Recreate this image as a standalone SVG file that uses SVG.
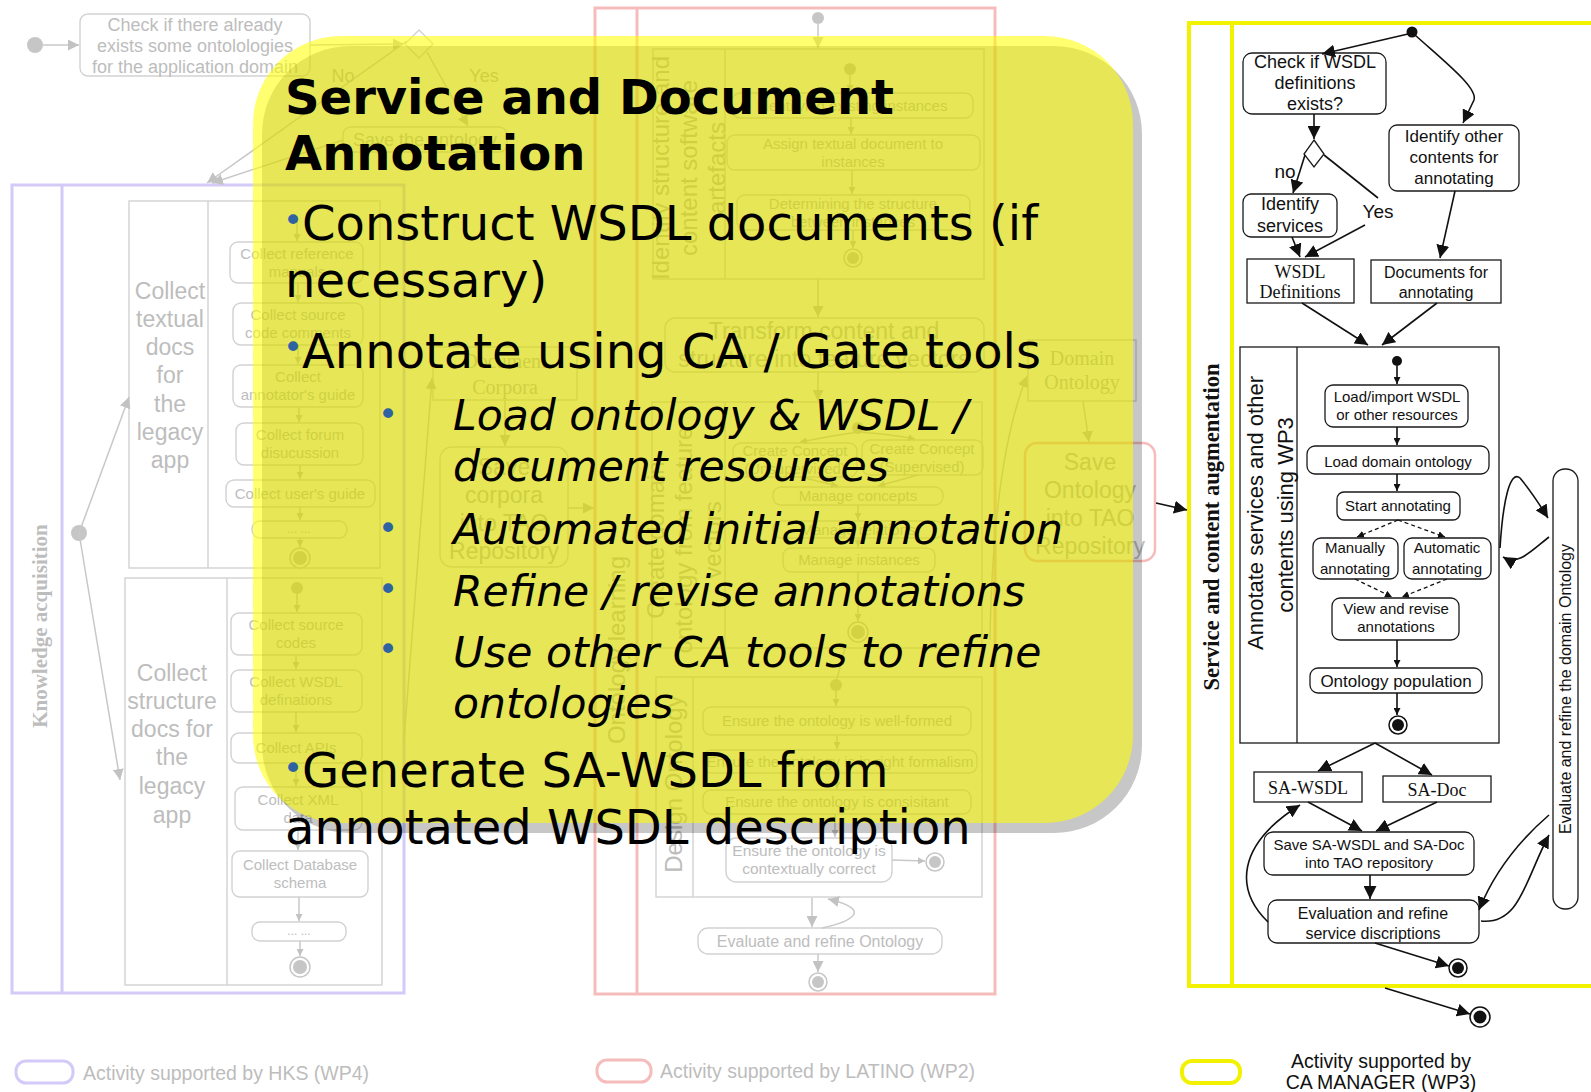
<svg xmlns="http://www.w3.org/2000/svg" width="1591" height="1092" viewBox="0 0 1591 1092">
<defs>
<marker id="fa" viewBox="0 0 10 10" refX="10" refY="5" markerWidth="11" markerHeight="11" markerUnits="userSpaceOnUse" orient="auto"><path d="M0,0 L10,5 L0,10 z" fill="#c2c2c2"/></marker>
<marker id="fs" viewBox="0 0 10 10" refX="10" refY="5" markerWidth="7" markerHeight="7" markerUnits="userSpaceOnUse" orient="auto"><path d="M0,0 L10,5 L0,10 z" fill="#c2c2c2"/></marker>
<marker id="ba" viewBox="0 0 10 10" refX="10" refY="5" markerWidth="13" markerHeight="13" markerUnits="userSpaceOnUse" orient="auto"><path d="M0,0 L10,5 L0,10 z" fill="#111"/></marker>
<marker id="bs" viewBox="0 0 10 10" refX="10" refY="5" markerWidth="7" markerHeight="7" markerUnits="userSpaceOnUse" orient="auto"><path d="M0,0 L10,5 L0,10 z" fill="#111"/></marker>
</defs>
<style>
.fb{fill:none;stroke:#d2d2d2;stroke-width:1.4}
.fl{fill:none;stroke:#c8c8c8;stroke-width:1.5}
.ft{font-family:"Liberation Sans",Arial,sans-serif;fill:#bdbdbd;text-anchor:middle}
.fsf{font-family:"Liberation Serif","Times New Roman",serif;fill:#bdbdbd;text-anchor:middle}
.fd{fill:#c6c6c6}
.fe{fill:#fff;stroke:#c6c6c6;stroke-width:1.5}
.bb{fill:#fff;stroke:#1a1a1a;stroke-width:1.3}
.bl{fill:none;stroke:#111;stroke-width:1.6}
.bd{fill:none;stroke:#111;stroke-width:1.3;stroke-dasharray:4 3}
.bt{font-family:"Liberation Sans",Arial,sans-serif;fill:#111;text-anchor:middle}
.bsf{font-family:"Liberation Serif","Times New Roman",serif;fill:#111;text-anchor:middle}
.be{fill:#fff;stroke:#111;stroke-width:1.5}
.ov{font-family:"DejaVu Sans",Verdana,sans-serif;fill:#000}
.bu{font-family:"DejaVu Sans",Verdana,sans-serif;fill:#2f62a1;text-anchor:middle;font-size:34px}
</style>
<rect width="1591" height="1092" fill="#fff"/>

<!-- ===== Faded left diagram (HKS) ===== -->
<g id="lane-knowledge">
<rect x="12" y="185" width="392" height="808" fill="none" stroke="#d4caf8" stroke-width="3"/>
<line x1="62" y1="185" x2="62" y2="993" stroke="#d4caf8" stroke-width="3"/>
<text class="fsf" font-size="21" font-weight="bold" transform="translate(47,626) rotate(-90)">Knowledge acquisition</text>
</g>
<g id="start-left"><circle cx="35" cy="45" r="8" class="fd"/></g>
<g id="check-existing"><rect x="80" y="14" width="230" height="62" rx="8" class="fb"/>
<text class="ft" font-size="18"><tspan x="195" y="31">Check if there already</tspan><tspan x="195" y="52">exists some ontolologies</tspan><tspan x="195" y="73">for the application domain</tspan></text></g>
<g id="decision-left"><polygon points="419,30 433,44 419,58 405,44" class="fb"/></g>
<g id="reuse-ontology"><rect x="343" y="127" width="164" height="25" rx="8" class="fb"/>
<text class="ft" font-size="18" x="425" y="146">Save the ontology</text></g>
<g id="sub-textual"><rect x="129" y="201" width="251" height="367" class="fb"/><line x1="208" y1="201" x2="208" y2="568" class="fb"/>
<text class="ft" font-size="23"><tspan x="170" y="299">Collect</tspan><tspan x="170" y="327">textual</tspan><tspan x="170" y="355">docs</tspan><tspan x="170" y="383">for</tspan><tspan x="170" y="412">the</tspan><tspan x="170" y="440">legacy</tspan><tspan x="170" y="468">app</tspan></text></g>
<g id="n-ref"><rect x="230" y="242" width="133" height="41" rx="8" class="fb"/><text class="ft" font-size="15"><tspan x="297" y="259">Collect reference</tspan><tspan x="297" y="277">manuals</tspan></text></g>
<g id="n-src-comments"><rect x="233" y="303" width="130" height="42" rx="8" class="fb"/><text class="ft" font-size="15"><tspan x="298" y="320">Collect source</tspan><tspan x="298" y="338">code comments</tspan></text></g>
<g id="n-annot-guide"><rect x="233" y="365" width="130" height="42" rx="8" class="fb"/><text class="ft" font-size="15"><tspan x="298" y="382">Collect</tspan><tspan x="298" y="400">annotator's guide</tspan></text></g>
<g id="n-forum"><rect x="236" y="423" width="127" height="42" rx="8" class="fb"/><text class="ft" font-size="15"><tspan x="300" y="440">Collect forum</tspan><tspan x="300" y="458">disucussion</tspan></text></g>
<g id="n-user-guide"><rect x="226" y="480" width="149" height="27" rx="8" class="fb"/><text class="ft" font-size="15" x="300" y="499">Collect user's guide</text></g>
<g id="n-dots1"><rect x="252" y="521" width="95" height="17" rx="8" class="fb"/><text class="ft" font-size="12" x="299" y="533">... ...</text></g>
<g id="end-textual"><circle cx="300" cy="558" r="10" class="fe"/><circle cx="300" cy="558" r="7" class="fd"/></g>
<g id="sub-structure"><rect x="125" y="578" width="257" height="407" class="fb"/><line x1="227" y1="578" x2="227" y2="985" class="fb"/>
<text class="ft" font-size="23"><tspan x="172" y="681">Collect</tspan><tspan x="172" y="709">structure</tspan><tspan x="172" y="737">docs for</tspan><tspan x="172" y="765">the</tspan><tspan x="172" y="794">legacy</tspan><tspan x="172" y="823">app</tspan></text></g>
<g id="start-structure"><circle cx="297" cy="588" r="6" class="fd"/></g>
<g id="n-src-codes"><rect x="231" y="613" width="131" height="42" rx="8" class="fb"/><text class="ft" font-size="15"><tspan x="296" y="630">Collect source</tspan><tspan x="296" y="648">codes</tspan></text></g>
<g id="n-wsdl-def"><rect x="231" y="670" width="131" height="42" rx="8" class="fb"/><text class="ft" font-size="15"><tspan x="296" y="687">Collect WSDL</tspan><tspan x="296" y="705">definations</tspan></text></g>
<g id="n-apis"><rect x="231" y="733" width="131" height="30" rx="8" class="fb"/><text class="ft" font-size="15" x="296" y="753">Collect APIs</text></g>
<g id="n-xml"><rect x="235" y="787" width="127" height="43" rx="8" class="fb"/><text class="ft" font-size="15"><tspan x="298" y="805">Collect XML</tspan><tspan x="298" y="823">data</tspan></text></g>
<g id="n-db"><rect x="232" y="851" width="136" height="46" rx="8" class="fb"/><text class="ft" font-size="15"><tspan x="300" y="870">Collect Database</tspan><tspan x="300" y="888">schema</tspan></text></g>
<g id="n-dots2"><rect x="252" y="922" width="94" height="19" rx="8" class="fb"/><text class="ft" font-size="12" x="299" y="935">... ...</text></g>
<g id="end-structure"><circle cx="300" cy="967" r="10" class="fe"/><circle cx="300" cy="967" r="7" class="fd"/></g>
<g id="fork-left"><circle cx="79" cy="533" r="8" class="fd"/></g>
<g id="legend-hks"><rect x="16" y="1061" width="57" height="22" rx="10" fill="none" stroke="#d4caf8" stroke-width="3"/><text class="ft" font-size="19.5" x="83" y="1080" style="text-anchor:start">Activity supported by HKS (WP4)</text></g>

<!-- ===== Faded middle diagram (LATINO) ===== -->
<g id="lane-latino">
<rect x="595" y="8" width="400" height="986" fill="none" stroke="#f6bcbc" stroke-width="3"/>
<line x1="637" y1="8" x2="637" y2="994" stroke="#f6bcbc" stroke-width="3"/>
<text class="ft" font-size="24" transform="translate(625,650) rotate(-90)">Ontology learning</text>
</g>
<g id="start-mid"><circle cx="818" cy="18" r="6" class="fd"/></g>
<g id="box-identify"><rect x="653" y="49" width="331" height="230" class="fb"/><line x1="725" y1="49" x2="725" y2="279" class="fb"/>
<text class="ft" font-size="24" transform="translate(669,168) rotate(-90)">Identify structure and</text>
<text class="ft" font-size="24" transform="translate(697,168) rotate(-90)">content software</text>
<text class="ft" font-size="24" transform="translate(725,168) rotate(-90)">artefacts</text></g>
<g id="start-identify"><circle cx="850" cy="69" r="6" class="fd"/></g>
<g id="m-identifying"><rect x="732" y="93" width="241" height="25" rx="8" class="fb"/><text class="ft" font-size="15" x="852" y="111">Identifying existing instances</text></g>
<g id="m-assign"><rect x="727" y="135" width="253" height="35" rx="8" class="fb"/><text class="ft" font-size="15"><tspan x="853" y="149">Assign textual document to</tspan><tspan x="853" y="167">instances</tspan></text></g>
<g id="m-determine"><rect x="737" y="195" width="233" height="35" rx="8" class="fb"/><text class="ft" font-size="15"><tspan x="853" y="209">Determining the structure</tspan><tspan x="853" y="227">between instances</tspan></text></g>
<g id="end-identify"><circle cx="853" cy="258" r="9" class="fe"/><circle cx="853" cy="258" r="6" class="fd"/></g>
<g id="m-transform"><rect x="665" y="318" width="319" height="54" rx="10" class="fb"/><text class="ft" font-size="23"><tspan x="824" y="339">Transform content and</tspan><tspan x="824" y="367">structure into feature vectors</tspan></text></g>
<g id="box-create"><rect x="652" y="402" width="330" height="246" class="fb"/><line x1="725" y1="402" x2="725" y2="648" class="fb"/>
<text class="ft" font-size="24" transform="translate(664,540) rotate(-90)">Create domain</text>
<text class="ft" font-size="24" transform="translate(692,540) rotate(-90)">ontology from feature</text>
<text class="ft" font-size="24" transform="translate(721,540) rotate(-90)">vectors</text></g>
<g id="start-create"><circle cx="858" cy="428" r="6" class="fd"/></g>
<g id="m-unsup"><rect x="733" y="443" width="124" height="34" rx="8" class="fb"/><text class="ft" font-size="15"><tspan x="795" y="456">Create Concept</tspan><tspan x="795" y="474">(Unsupervised)</tspan></text></g>
<g id="m-sup"><rect x="862" y="440" width="121" height="35" rx="8" class="fb"/><text class="ft" font-size="15"><tspan x="922" y="454">Create Concept</tspan><tspan x="922" y="472">(Supervised)</tspan></text></g>
<g id="m-concepts"><rect x="773" y="487" width="170" height="18" rx="8" class="fb"/><text class="ft" font-size="15" x="858" y="501">Manage concepts</text></g>
<g id="m-relations"><rect x="773" y="521" width="170" height="17" rx="8" class="fb"/><text class="ft" font-size="15" x="858" y="535">Manage relations</text></g>
<g id="m-instances"><rect x="783" y="548" width="152" height="24" rx="8" class="fb"/><text class="ft" font-size="15" x="859" y="565">Manage instances</text></g>
<g id="end-create"><circle cx="858" cy="632" r="10" class="fe"/><circle cx="858" cy="632" r="7" class="fd"/></g>
<g id="merge-design"><circle cx="836" cy="685" r="6" class="fd"/></g>
<g id="box-design"><rect x="656" y="677" width="326" height="220" class="fb"/><line x1="693" y1="677" x2="693" y2="897" class="fb"/>
<text class="ft" font-size="24" transform="translate(682,784) rotate(-90)">Design Ontology</text></g>
<g id="m-wellformed"><rect x="703" y="707" width="268" height="28" rx="8" class="fb"/><text class="ft" font-size="15" x="837" y="726">Ensure the ontology is well-formed</text></g>
<g id="m-formalism"><rect x="703" y="750" width="274" height="23" rx="8" class="fb"/><text class="ft" font-size="15" x="840" y="767">Ensure the ontology is in right formalism</text></g>
<g id="m-consistent"><rect x="703" y="790" width="268" height="24" rx="8" class="fb"/><text class="ft" font-size="15" x="837" y="807">Ensure the ontology is consisitant</text></g>
<g id="m-context"><rect x="726" y="838" width="166" height="44" rx="10" class="fb"/><text class="ft" font-size="15.5"><tspan x="809" y="856">Ensure the ontology is</tspan><tspan x="809" y="874">contextually correct</tspan></text></g>
<g id="end-design"><circle cx="935" cy="862" r="9" class="fe"/><circle cx="935" cy="862" r="6" class="fd"/></g>
<g id="m-evaluate"><rect x="698" y="928" width="244" height="26" rx="10" class="fb"/><text class="ft" font-size="16" x="820" y="947">Evaluate and refine Ontology</text></g>
<g id="end-mid"><circle cx="818" cy="982" r="9" class="fe"/><circle cx="818" cy="982" r="6" class="fd"/></g>
<g id="doc-corpora"><rect x="433" y="347" width="144" height="53" class="fb"/><text class="fsf" font-size="20"><tspan x="505" y="368">Document</tspan><tspan x="505" y="394">Corpora</tspan></text></g>
<g id="save-corpora"><rect x="440" y="447" width="128" height="120" rx="12" class="fb"/><text class="ft" font-size="23"><tspan x="504" y="475">Save</tspan><tspan x="504" y="503">corpora</tspan><tspan x="504" y="531">into TAO</tspan><tspan x="504" y="559">Repository</tspan></text></g>
<g id="domain-ontology"><rect x="1028" y="340" width="108" height="61" class="fb"/><text class="fsf" font-size="20"><tspan x="1082" y="365">Domain</tspan><tspan x="1082" y="389">Ontology</tspan></text></g>
<g id="save-ontology"><rect x="1025" y="443" width="130" height="118" rx="12" fill="none" stroke="#f6bcbc" stroke-width="2.5"/><text class="ft" font-size="23"><tspan x="1090" y="470">Save</tspan><tspan x="1090" y="498">Ontology</tspan><tspan x="1090" y="526">into TAO</tspan><tspan x="1090" y="554">Repository</tspan></text></g>
<g id="legend-latino"><rect x="597" y="1060" width="54" height="22" rx="10" fill="none" stroke="#f6bcbc" stroke-width="3"/><text class="ft" font-size="19.5" x="660" y="1078" style="text-anchor:start">Activity supported by LATINO (WP2)</text></g>

<!-- ===== Right diagram (CA MANAGER) ===== -->
<g id="lane-ca">
<path d="M1591,23 H1189 V986 H1591" fill="none" stroke="#f2f200" stroke-width="4"/>
<line x1="1232" y1="23" x2="1232" y2="986" stroke="#f2f200" stroke-width="4"/>
<text class="bsf" font-size="22.5" font-weight="bold" transform="translate(1219,527) rotate(-90)">Service and content augmentation</text>
</g>
<g id="start-ca"><circle cx="1412" cy="32" r="5.5" fill="#111"/></g>
<g id="r-check"><rect x="1243" y="53" width="143" height="61" rx="9" class="bb"/><text class="bt" font-size="18"><tspan x="1315" y="68">Check if WSDL</tspan><tspan x="1315" y="89">definitions</tspan><tspan x="1315" y="110">exists?</tspan></text></g>
<g id="r-decision"><polygon points="1314,140 1324,154 1314,167 1304,154" class="bb"/></g>
<g id="r-identify-other"><rect x="1389" y="125" width="130" height="66" rx="8" class="bb"/><text class="bt" font-size="17"><tspan x="1454" y="142">Identify other</tspan><tspan x="1454" y="163">contents for</tspan><tspan x="1454" y="184">annotating</tspan></text></g>
<g id="r-identify-services"><rect x="1243" y="194" width="94" height="43" rx="8" class="bb"/><text class="bt" font-size="18"><tspan x="1290" y="210">Identify</tspan><tspan x="1290" y="232">services</tspan></text></g>
<g id="r-wsdl-def"><rect x="1247" y="259" width="107" height="44" class="bb"/><text class="bsf" font-size="18"><tspan x="1300" y="278">WSDL</tspan><tspan x="1300" y="298">Definitions</tspan></text></g>
<g id="r-docs"><rect x="1371" y="260" width="130" height="43" class="bb"/><text class="bt" font-size="16"><tspan x="1436" y="278">Documents for</tspan><tspan x="1436" y="298">annotating</tspan></text></g>
<g id="r-annotate-box"><rect x="1240" y="347" width="259" height="396" class="bb"/><line x1="1297" y1="347" x2="1297" y2="743" stroke="#1a1a1a" stroke-width="1.3"/>
<text class="bt" font-size="22" transform="translate(1263,513) rotate(-90)">Annotate services and other</text>
<text class="bt" font-size="22" transform="translate(1293,515) rotate(-90)">contents using WP3</text></g>
<g id="r-start-inner"><circle cx="1397" cy="361" r="5" fill="#111"/></g>
<g id="r-load-wsdl"><rect x="1325" y="385" width="143" height="42" rx="8" class="bb"/><text class="bt" font-size="15"><tspan x="1397" y="402">Load/import WSDL</tspan><tspan x="1397" y="420">or other resources</tspan></text></g>
<g id="r-load-domain"><rect x="1307" y="446" width="182" height="28" rx="8" class="bb"/><text class="bt" font-size="15" x="1398" y="467">Load domain ontology</text></g>
<g id="r-start-annot"><rect x="1337" y="492" width="123" height="28" rx="7" class="bb"/><text class="bt" font-size="15" x="1398" y="511">Start annotating</text></g>
<g id="r-manual"><rect x="1313" y="538" width="85" height="41" rx="8" class="bb"/><text class="bt" font-size="15"><tspan x="1355" y="553">Manually</tspan><tspan x="1355" y="574">annotating</tspan></text></g>
<g id="r-auto"><rect x="1404" y="538" width="87" height="41" rx="8" class="bb"/><text class="bt" font-size="15"><tspan x="1447" y="553">Automatic</tspan><tspan x="1447" y="574">annotating</tspan></text></g>
<g id="r-view"><rect x="1332" y="598" width="127" height="42" rx="8" class="bb"/><text class="bt" font-size="15"><tspan x="1396" y="614">View and revise</tspan><tspan x="1396" y="632">annotations</tspan></text></g>
<g id="r-population"><rect x="1310" y="668" width="172" height="25" rx="8" class="bb"/><text class="bt" font-size="17" x="1396" y="687">Ontology population</text></g>
<g id="r-end-inner"><circle cx="1398" cy="725" r="9" class="be"/><circle cx="1398" cy="725" r="6" fill="#111"/></g>
<g id="r-evaluate-onto"><rect x="1553" y="469" width="25" height="440" rx="12" class="bb"/><text class="bt" font-size="16" transform="translate(1571,689) rotate(-90)">Evaluate and refine the domain Ontology</text></g>
<g id="r-sa-wsdl"><rect x="1254" y="772" width="108" height="30" class="bb"/><text class="bsf" font-size="18" x="1308" y="794">SA-WSDL</text></g>
<g id="r-sa-doc"><rect x="1383" y="776" width="108" height="26" class="bb"/><text class="bsf" font-size="18" x="1437" y="796">SA-Doc</text></g>
<g id="r-save"><rect x="1264" y="832" width="210" height="43" rx="9" class="bb"/><text class="bt" font-size="15"><tspan x="1369" y="850">Save SA-WSDL and SA-Doc</tspan><tspan x="1369" y="868">into TAO repository</tspan></text></g>
<g id="r-evaluation"><rect x="1268" y="900" width="211" height="43" rx="9" class="bb"/><text class="bt" font-size="16"><tspan x="1373" y="919">Evaluation and refine</tspan><tspan x="1373" y="939">service discriptions</tspan></text></g>
<g id="r-end1"><circle cx="1458" cy="968" r="9" class="be"/><circle cx="1458" cy="968" r="6" fill="#111"/></g>
<g id="r-end2"><circle cx="1480" cy="1017" r="10" class="be"/><circle cx="1480" cy="1017" r="6.5" fill="#111"/></g>
<g id="legend-ca"><rect x="1182" y="1061" width="58" height="22" rx="10" fill="none" stroke="#f2f200" stroke-width="4"/><text class="bt" font-size="19.5"><tspan x="1381" y="1068">Activity supported by</tspan><tspan x="1381" y="1089">CA MANAGER (WP3)</tspan></text></g>

<!-- ===== Connectors ===== -->
<g id="connectors">
<g class="fl">
<line x1="43" y1="45" x2="79" y2="45" marker-end="url(#fa)"/>
<line x1="310" y1="45" x2="404" y2="44" marker-end="url(#fa)"/>
<line x1="407" y1="41" x2="207" y2="183" marker-end="url(#fa)"/>
<line x1="343" y1="140" x2="212" y2="183" marker-end="url(#fa)"/>
<line x1="427" y1="52" x2="468" y2="126" marker-end="url(#fa)"/>
<line x1="79" y1="533" x2="129" y2="397" marker-end="url(#fa)"/>
<line x1="79" y1="533" x2="120" y2="780" marker-end="url(#fa)"/>
<line x1="297" y1="216" x2="297" y2="241" marker-end="url(#fs)"/>
<line x1="298" y1="283" x2="298" y2="302" marker-end="url(#fs)"/>
<line x1="298" y1="345" x2="298" y2="364" marker-end="url(#fs)"/>
<line x1="299" y1="407" x2="299" y2="422" marker-end="url(#fs)"/>
<line x1="300" y1="465" x2="300" y2="479" marker-end="url(#fs)"/>
<line x1="300" y1="507" x2="300" y2="520" marker-end="url(#fs)"/>
<line x1="300" y1="538" x2="300" y2="547" marker-end="url(#fs)"/>
<line x1="297" y1="594" x2="297" y2="612" marker-end="url(#fs)"/>
<line x1="296" y1="655" x2="296" y2="669" marker-end="url(#fs)"/>
<line x1="296" y1="712" x2="296" y2="732" marker-end="url(#fs)"/>
<line x1="296" y1="763" x2="296" y2="786" marker-end="url(#fs)"/>
<line x1="298" y1="830" x2="298" y2="850" marker-end="url(#fs)"/>
<line x1="299" y1="897" x2="299" y2="921" marker-end="url(#fs)"/>
<line x1="300" y1="941" x2="300" y2="956" marker-end="url(#fs)"/>
<line x1="404" y1="740" x2="432" y2="378" marker-end="url(#fa)"/>
<line x1="505" y1="400" x2="505" y2="446" marker-end="url(#fa)"/>
<line x1="568" y1="508" x2="594" y2="508" marker-end="url(#fa)"/>
<line x1="818" y1="24" x2="818" y2="48" marker-end="url(#fa)"/>
<line x1="850" y1="75" x2="850" y2="92" marker-end="url(#fs)"/>
<line x1="851" y1="118" x2="851" y2="134" marker-end="url(#fs)"/>
<line x1="852" y1="170" x2="852" y2="194" marker-end="url(#fs)"/>
<line x1="853" y1="230" x2="853" y2="248" marker-end="url(#fs)"/>
<line x1="818" y1="279" x2="818" y2="317" marker-end="url(#fa)"/>
<line x1="818" y1="372" x2="818" y2="401" marker-end="url(#fa)"/>
<path d="M858,432 Q830,436 800,442" marker-end="url(#fs)"/>
<path d="M858,432 Q890,434 915,439" marker-end="url(#fs)"/>
<line x1="800" y1="477" x2="838" y2="486" marker-end="url(#fs)"/>
<line x1="918" y1="475" x2="878" y2="486" marker-end="url(#fs)"/>
<line x1="858" y1="505" x2="858" y2="520" marker-end="url(#fs)"/>
<line x1="858" y1="538" x2="858" y2="547" marker-end="url(#fs)"/>
<line x1="858" y1="572" x2="858" y2="621" marker-end="url(#fs)"/>
<line x1="845" y1="648" x2="837" y2="679"/>
<line x1="836" y1="691" x2="836" y2="706" marker-end="url(#fs)"/>
<line x1="837" y1="735" x2="837" y2="749" marker-end="url(#fs)"/>
<line x1="837" y1="773" x2="837" y2="789" marker-end="url(#fs)"/>
<line x1="835" y1="814" x2="835" y2="837" marker-end="url(#fs)"/>
<line x1="892" y1="860" x2="925" y2="861" marker-end="url(#fs)"/>
<line x1="812" y1="898" x2="812" y2="927" marker-end="url(#fa)"/>
<path d="M822,928 C850,922 875,910 828,899" marker-end="url(#fa)"/>
<line x1="818" y1="954" x2="818" y2="972" marker-end="url(#fa)"/>
<line x1="1083" y1="401" x2="1089" y2="442" marker-end="url(#fa)"/>
<path d="M990,640 C992,520 1005,430 1027,376" marker-end="url(#fa)"/>
</g>
<g class="bl">
<line x1="1156" y1="503" x2="1187" y2="510" marker-end="url(#ba)"/>
<line x1="1408" y1="34" x2="1322" y2="54" marker-end="url(#ba)"/>
<path d="M1415,35 C1445,62 1478,88 1474,100 L1463,123" marker-end="url(#ba)"/>
<line x1="1314" y1="114" x2="1314" y2="139" marker-end="url(#ba)"/>
<line x1="1305" y1="155" x2="1293" y2="193" marker-end="url(#ba)"/>
<line x1="1324" y1="155" x2="1378" y2="198"/>
<line x1="1365" y1="225" x2="1305" y2="257" marker-end="url(#ba)"/>
<line x1="1292" y1="237" x2="1300" y2="257" marker-end="url(#ba)"/>
<line x1="1455" y1="191" x2="1440" y2="258" marker-end="url(#ba)"/>
<line x1="1302" y1="303" x2="1368" y2="345" marker-end="url(#ba)"/>
<line x1="1437" y1="303" x2="1382" y2="345" marker-end="url(#ba)"/>
<line x1="1397" y1="366" x2="1397" y2="384" marker-end="url(#bs)"/>
<line x1="1397" y1="427" x2="1397" y2="445" marker-end="url(#bs)"/>
<line x1="1397" y1="474" x2="1397" y2="491" marker-end="url(#bs)"/>
<line x1="1397" y1="640" x2="1397" y2="667" marker-end="url(#bs)"/>
<line x1="1397" y1="693" x2="1397" y2="715" marker-end="url(#bs)"/>
<line x1="1375" y1="743" x2="1318" y2="771" marker-end="url(#ba)"/>
<line x1="1375" y1="743" x2="1432" y2="775" marker-end="url(#ba)"/>
<line x1="1308" y1="802" x2="1362" y2="831" marker-end="url(#ba)"/>
<line x1="1437" y1="802" x2="1376" y2="831" marker-end="url(#ba)"/>
<line x1="1370" y1="875" x2="1370" y2="899" marker-end="url(#ba)"/>
<path d="M1268,922 C1235,890 1236,845 1300,805" marker-end="url(#ba)"/>
<line x1="1375" y1="943" x2="1449" y2="966" marker-end="url(#ba)"/>
<line x1="1385" y1="988" x2="1470" y2="1014" marker-end="url(#ba)"/>
<path d="M1500,548 C1503,500 1510,470 1520,478 C1530,490 1540,505 1548,518" marker-end="url(#ba)"/>
<path d="M1549,537 C1530,552 1518,566 1503,557" marker-end="url(#ba)"/>
<path d="M1549,815 C1520,840 1495,870 1479,910" marker-end="url(#ba)"/>
<path d="M1481,921 C1520,925 1525,880 1549,835" marker-end="url(#ba)"/>
</g>
<g class="bd">
<line x1="1398" y1="520" x2="1357" y2="537" marker-end="url(#bs)"/>
<line x1="1398" y1="520" x2="1445" y2="537" marker-end="url(#bs)"/>
<line x1="1355" y1="579" x2="1392" y2="597" marker-end="url(#bs)"/>
<line x1="1447" y1="579" x2="1402" y2="597" marker-end="url(#bs)"/>
</g>
</g>
<g id="labels">
<text class="ft" font-size="18" x="343" y="82">No</text>
<text class="ft" font-size="18" x="484" y="82">Yes</text>
<text class="bt" font-size="19" x="1285" y="178">no</text>
<text class="bt" font-size="19" x="1378" y="218">Yes</text>
</g>

<!-- ===== Overlay callout ===== -->
<g id="callout">
<rect x="262" y="46" width="880" height="787" rx="88" fill="#000" opacity="0.22"/>
<rect x="253" y="36" width="880" height="787" rx="88" fill="#ffff00" opacity="0.56"/>
<text class="ov" font-size="48" font-weight="bold"><tspan x="285" y="114">Service and Document</tspan><tspan x="285" y="170">Annotation</tspan></text>
<text class="bu" x="293" y="232">•</text>
<text class="ov" font-size="48" x="302" y="240">Construct WSDL documents (if</text>
<text class="ov" font-size="48" x="285" y="297">necessary)</text>
<text class="bu" x="293" y="359">•</text>
<text class="ov" font-size="48" x="302" y="368">Annotate using CA / Gate tools</text>
<text class="bu" x="388" y="426">•</text>
<text class="ov" font-size="42.5" font-style="italic"><tspan x="453" y="430">Load ontology &amp; WSDL /</tspan><tspan x="453" y="481">document resources</tspan></text>
<text class="bu" x="388" y="540">•</text>
<text class="ov" font-size="42.5" font-style="italic" x="453" y="544">Automated initial annotation</text>
<text class="bu" x="388" y="601">•</text>
<text class="ov" font-size="42.5" font-style="italic" x="453" y="606">Refine / revise annotations</text>
<text class="bu" x="388" y="661">•</text>
<text class="ov" font-size="42.5" font-style="italic"><tspan x="453" y="667">Use other CA tools to refine</tspan><tspan x="453" y="718">ontologies</tspan></text>
<text class="bu" x="293" y="780">•</text>
<text class="ov" font-size="48" x="302" y="787">Generate SA-WSDL from</text>
<text class="ov" font-size="48" x="285" y="844">annotated WSDL description</text>
</g>
</svg>
